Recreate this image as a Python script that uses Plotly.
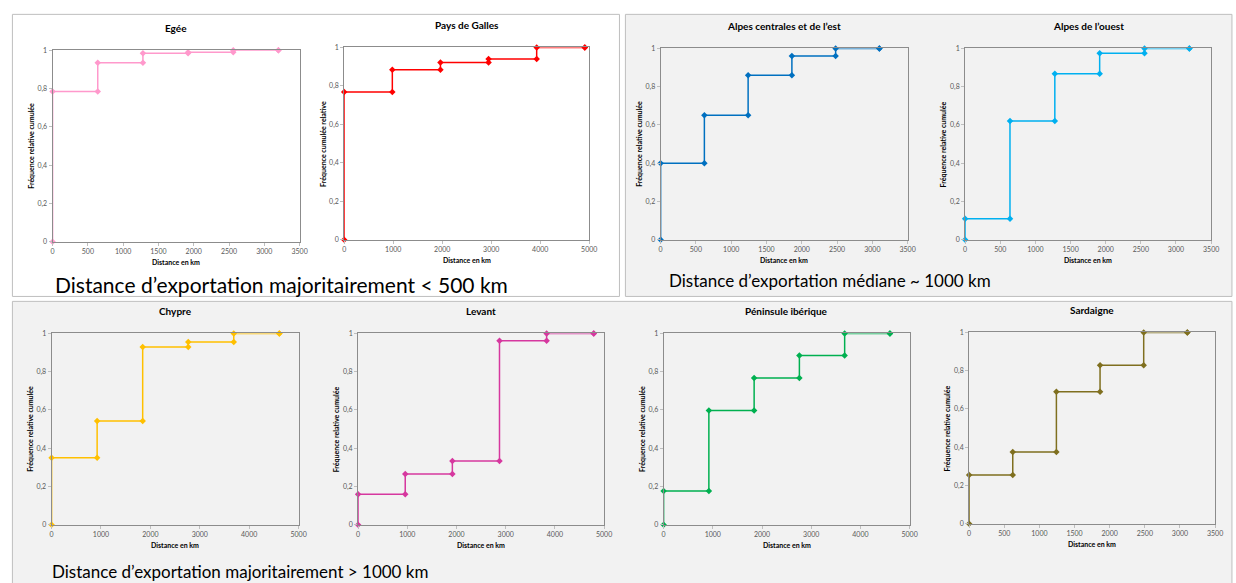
import plotly.graph_objects as go

W, H = 1236, 583

# ---- data ----
titles = ["Egée", "Pays de Galles", "Alpes centrales et de l’est", "Alpes de l’ouest",
          "Chypre", "Levant", "Péninsule ibérique", "Sardaigne"]
ytitles = ["Fréquence relative cumulée", "Fréquence cumulée relative", "Fréquence relative cumulée",
           "Fréquence relative cumulée", "Fréquence relative cumulée", "Fréquence relative cumulée",
           "Fréquence relative cumulée", "Fréquence relative cumulée"]
colors = ["#ff99cc", "#ff0000", "#0070c0", "#00b0f0", "#ffc000", "#d6389f", "#00b050", "#7f6f1f"]

dist_egee = [0, 640, 1280, 1920, 2560, 3200]
freq_egee = [0.785, 0.935, 0.985, 0.99, 1.0, 1.0]
dist_galles = [0, 982, 1964, 2946, 3928, 4910]
freq_galles = [0.768, 0.884, 0.921, 0.94, 1.0, 1.0]
dist_alpes_c = [0, 620, 1240, 1860, 2480, 3100]
freq_alpes_c = [0.40, 0.65, 0.86, 0.96, 1.0, 1.0]
dist_alpes_o = [0, 638, 1276, 1914, 2552, 3190]
freq_alpes_o = [0.11, 0.62, 0.867, 0.975, 1.0, 1.0]
dist_chypre = [0, 922, 1844, 2766, 3688, 4610]
freq_chypre = [0.35, 0.542, 0.929, 0.955, 1.0, 1.0]
dist_levant = [0, 958, 1916, 2874, 3832, 4790]
freq_levant = [0.16, 0.265, 0.333, 0.962, 1.0, 1.0]
dist_iberique = [0, 920, 1840, 2760, 3680, 4600]
freq_iberique = [0.177, 0.597, 0.767, 0.885, 1.0, 1.0]
dist_sardaigne = [0, 621, 1242, 1863, 2484, 3105]
freq_sardaigne = [0.255, 0.375, 0.69, 0.829, 1.0, 1.0]

xtick_3500 = [0, 500, 1000, 1500, 2000, 2500, 3000, 3500]
xtick_5000 = [0, 1000, 2000, 3000, 4000, 5000]
ytick_vals = [0, 0.2, 0.4, 0.6, 0.8, 1]
ytick_text = ["0", "0,2", "0,4", "0,6", "0,8", "1"]

notes = ["Distance d’exportation majoritairement < 500 km",
         "Distance d’exportation médiane ~ 1000 km",
         "Distance d’exportation majoritairement > 1000 km"]

series = [(dist_egee, freq_egee, xtick_3500), (dist_galles, freq_galles, xtick_5000),
          (dist_alpes_c, freq_alpes_c, xtick_3500), (dist_alpes_o, freq_alpes_o, xtick_3500),
          (dist_chypre, freq_chypre, xtick_5000), (dist_levant, freq_levant, xtick_5000),
          (dist_iberique, freq_iberique, xtick_5000), (dist_sardaigne, freq_sardaigne, xtick_3500)]

# ---- layout (pixel boxes: left, right, top, bottom) ----
boxes = [(51, 300, 46, 240), (345, 592, 43, 238), (664, 913, 44, 238), (971, 1219, 44, 238),
         (50, 299, 333, 527), (359, 607, 333, 527), (667, 915, 333, 527), (975, 1223, 332, 526)]

def px(x):
    return x / W

def py(y):
    return 1 - y / H

FONT = "Lato, 'Open Sans', sans-serif"

fig = go.Figure()
layout = dict(width=W, height=H, margin=dict(l=0, r=0, t=0, b=0),
              paper_bgcolor="white", plot_bgcolor="rgba(0,0,0,0)",
              showlegend=False, font=dict(family=FONT))
annotations = []
shapes = [
    dict(type="rect", xref="paper", yref="paper", x0=px(10.5), x1=px(622.5), y0=py(295.5), y1=py(9.5),
         fillcolor="white", line=dict(color="#bfbfbf", width=1), layer="below"),
    dict(type="rect", xref="paper", yref="paper", x0=px(628.5), x1=px(1240), y0=py(295.5), y1=py(9.5),
         fillcolor="#f2f2f2", line=dict(color="#bfbfbf", width=1), layer="below"),
    dict(type="rect", xref="paper", yref="paper", x0=px(10.5), x1=px(1240), y0=py(590), y1=py(300.5),
         fillcolor="#f2f2f2", line=dict(color="#bfbfbf", width=1), layer="below"),
]

for i, ((d, f, xt), (l, r, t, b)) in enumerate(zip(series, boxes)):
    n = i + 1
    xs = [d[0]]
    ys = [0]
    prev = 0
    for dv, fv in zip(d, f):
        xs += [dv, dv]
        ys += [prev, fv]
        prev = fv
    xs = xs[1:]
    ys = ys[1:]
    fig.add_trace(go.Scatter(x=xs, y=ys, mode="lines+markers",
                             line=dict(color=colors[i], width=1.5),
                             marker=dict(symbol="diamond", size=5, color=colors[i]),
                             xaxis=f"x{n}", yaxis=f"y{n}", cliponaxis=False))
    axcommon = dict(showgrid=False, zeroline=False, showline=True, mirror=True,
                    linecolor="#8c8c8c", linewidth=1, ticks="outside", ticklen=3,
                    tickcolor="#bfbfbf", tickfont=dict(size=7, color="#595959", family=FONT))
    layout[f"xaxis{n}"] = dict(domain=[px(l), px(r)], anchor=f"y{n}", range=[0, xt[-1]],
                               tickvals=xt, ticktext=[str(v) for v in xt], **axcommon)
    layout[f"yaxis{n}"] = dict(domain=[py(b), py(t)], anchor=f"x{n}", range=[0, 1],
                               tickvals=ytick_vals, ticktext=ytick_text, **axcommon)
    cx = (l + r) / 2
    annotations.append(dict(text=f"<b>{titles[i]}</b>", x=px(cx), y=py(t - 23), xref="paper", yref="paper",
                            showarrow=False, font=dict(size=10, color="#000000", family=FONT),
                            xanchor="center", yanchor="middle"))
    annotations.append(dict(text="<b>Distance en km</b>", x=px(cx), y=py(b + 20.5), xref="paper", yref="paper",
                            showarrow=False, font=dict(size=7, color="#000000", family=FONT),
                            xanchor="center", yanchor="middle"))
    annotations.append(dict(text=f"<b>{ytitles[i]}</b>", x=px(l - 22), y=py((t + b) / 2), xref="paper",
                            yref="paper", showarrow=False, textangle=-90,
                            font=dict(size=7, color="#000000", family=FONT),
                            xanchor="center", yanchor="middle"))

for txt, (x0, y0), fs in zip(notes, [(51, 283), (670, 279), (48, 574)], [21, 17, 17]):
    annotations.append(dict(text=txt, x=px(x0), y=py(y0), xref="paper", yref="paper", showarrow=False,
                            xanchor="left", yanchor="middle",
                            font=dict(size=fs, color="#000000", family=FONT)))

layout["annotations"] = annotations
layout["shapes"] = shapes
fig.update_layout(**layout)
fig.write_html("out.html", config={"displayModeBar": False},
               post_script="document.documentElement.style.margin='0';document.body.style.margin='0';"
                           "document.body.style.overflow='hidden';document.documentElement.style.overflow='hidden';")
